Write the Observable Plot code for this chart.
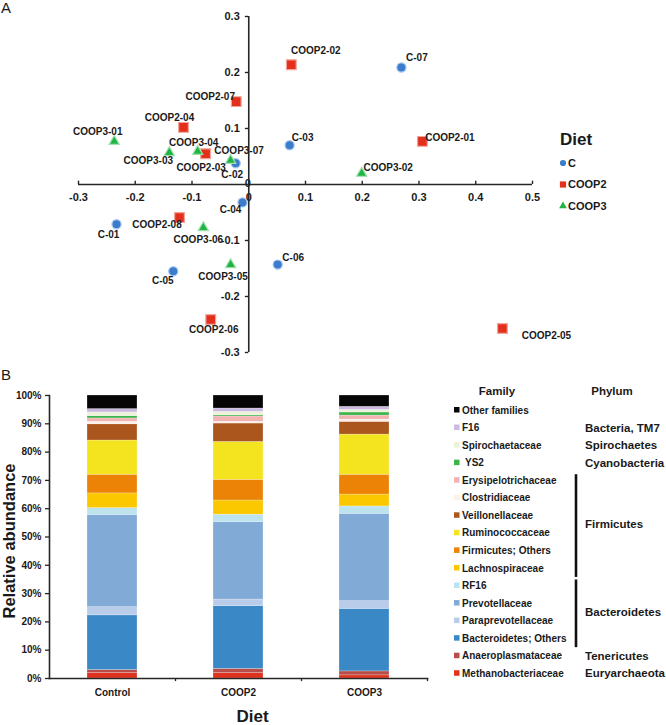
<!DOCTYPE html>
<html><head><meta charset="utf-8">
<script src="https://cdn.jsdelivr.net/npm/d3@7"></script>
<script src="https://cdn.jsdelivr.net/npm/@observablehq/plot@0.6"></script>
<style>
body{margin:0;background:#fff;font-family:"Liberation Sans",Arial,sans-serif;}
#wrap{position:relative;width:666px;height:725px;overflow:hidden;background:#fff;}
#wrap > svg{position:absolute;}
</style></head><body><div id="wrap"></div>
<script>
// ---------- Panel A data (PCoA) ----------
const sampleIds = ["C-01","C-02","C-03","C-04","C-05","C-06","C-07",
  "COOP2-01","COOP2-02","COOP2-03","COOP2-04","COOP2-05","COOP2-06","COOP2-07","COOP2-08",
  "COOP3-01","COOP3-02","COOP3-03","COOP3-04","COOP3-05","COOP3-06","COOP3-07"];
const sampleDiets = ["C","C","C","C","C","C","C",
  "COOP2","COOP2","COOP2","COOP2","COOP2","COOP2","COOP2","COOP2",
  "COOP3","COOP3","COOP3","COOP3","COOP3","COOP3","COOP3"];
const pc1 = [-0.233,-0.023,0.072,-0.011,-0.133,0.051,0.269,
  0.306,0.075,-0.076,-0.115,0.447,-0.067,-0.022,-0.122,
  -0.237,0.199,-0.140,-0.090,-0.032,-0.080,-0.032];
const pc2 = [-0.071,0.038,0.070,-0.032,-0.155,-0.143,0.209,
  0.077,0.214,0.055,0.102,-0.257,-0.241,0.148,-0.059,
  0.077,0.020,0.057,0.059,-0.143,-0.077,0.043];
const dietNames = ["C","COOP2","COOP3"];
const xTicksA = [-0.3,-0.2,-0.1,0.1,0.2,0.3,0.4,0.5];
const yTicksA = [-0.3,-0.2,-0.1,0.1,0.2,0.3];

// ---------- Panel B data (relative abundance, %) bottom -> top ----------
const families = ["Methanobacteriaceae","Anaeroplasmataceae","Bacteroidetes; Others","Paraprevotellaceae",
  "Prevotellaceae","RF16","Lachnospiraceae","Firmicutes; Others","Ruminococcaceae","Veillonellaceae",
  "Clostridiaceae","Erysipelotrichaceae","YS2","Spirochaetaceae","F16","Other families"];
const familyPhylum = ["Euryarchaeota","Tenericutes","Bacteroidetes","Bacteroidetes","Bacteroidetes","Bacteroidetes",
  "Firmicutes","Firmicutes","Firmicutes","Firmicutes","Firmicutes","Firmicutes",
  "Cyanobacteria","Spirochaetes","Bacteria, TM7",""];
const dietGroups = ["Control","COOP2","COOP3"];
const controlValues = [1.9,1.1,19.3,2.9,32.6,2.4,5.2,6.6,12.1,5.7,0.9,1.2,0.8,1.3,1.2,4.8];
const coop2Values   = [1.9,1.5,22.2,2.3,27.3,2.7,5.0,7.3,13.4,6.5,0.6,1.9,0.4,1.2,1.2,4.6];
const coop3Values   = [1.1,1.4,22.1,2.7,30.9,2.6,4.2,7.0,14.2,4.5,0.8,1.4,1.1,0.9,1.1,4.0];
const yTicksB = [0,10,20,30,40,50,60,70,80,90,100];

// ---------- styles ----------
const FONT = "Liberation Sans, Arial, Helvetica, sans-serif";
const TXT = "#1a1a1a";
const dietStyle = {
  C:     {symbol:"circle",   fill:"#3b7dcc", halo:"#a9c8ee", r:4.6},
  COOP2: {symbol:"square",   fill:"#e2301c", halo:"#f4a396", r:5.5},
  COOP3: {symbol:"triangle", fill:"#1fb443", halo:"#9fe0ad", r:3.8}
};
const familyColors = ["#e0321c","#b94d4a","#3a88c5","#b9cdea","#82aad6","#bde3ef","#fbc800","#ec8306",
  "#f4e420","#ab561d","#fdf1ea","#f2b3b3","#3cb44b","#ecf2d8","#cbb9e1","#060606"];
// label placement (pixel offsets from point)
const labelOffsets = {
  "COOP2-02":[24.5,-14],"C-07":[15.5,-10],"COOP2-07":[-26,-5],"COOP2-04":[-14,-10],
  "COOP3-01":[-16.5,-10],"COOP3-03":[-21,8],"COOP3-04":[-4,-9],"COOP2-03":[-4.5,14],
  "COOP3-07":[8.5,-10],"C-02":[-3.5,12],"C-03":[13,-8],"COOP2-01":[27.5,-4],
  "COOP3-02":[26.5,-6],"C-04":[-12,7],"COOP2-08":[-22.5,7],"C-01":[-8,11],
  "COOP3-06":[-5,12],"C-05":[-10.5,9],"COOP3-05":[-7.5,12],"C-06":[15.5,-7],
  "COOP2-06":[3,10],"COOP2-05":[44,7]
};

const wrap = document.getElementById("wrap");

// ---------- Panel A ----------
const pts = sampleIds.map((id,i)=>({id, diet:sampleDiets[i], x:pc1[i], y:pc2[i]}));
const axisCol = "#262626";
const plotA = Plot.plot({
  width: 666, height: 360,
  marginLeft: 78, marginRight: 134, marginTop: 16, marginBottom: 8,
  x: {domain: [-0.3, 0.5], axis: null},
  y: {domain: [-0.3, 0.3], axis: null},
  style: {fontFamily: FONT, fontWeight: "bold", overflow: "visible", background: "transparent"},
  marks: [
    Plot.text(xTicksA, {x: d=>d, y: 0, dy: 13, text: d=>String(d), fontSize: 11, fill: TXT}),
    Plot.text(yTicksA, {x: 0, y: d=>d, dx: -9, textAnchor: "end", text: d=>String(d), fontSize: 11, fill: TXT}),
    Plot.text([0], {x: 0, y: 0, dy: 13, text: d=>String(d), fontSize: 11, fill: TXT}),
    Plot.text([0], {x: 0, y: 0, dx: -1, dy: -1, text: d=>String(d), fontSize: 11, fill: TXT}),
    Plot.ruleY([0], {x1: -0.3, x2: 0.5, stroke: axisCol, strokeWidth: 1.6}),
    Plot.ruleX([0], {y1: -0.3, y2: 0.3, stroke: axisCol, strokeWidth: 1.6}),
    Plot.ruleX(xTicksA, {x: d=>d, y1: 0, y2: 0.006, stroke: axisCol, strokeWidth: 1.4}),
    Plot.ruleY(yTicksA, {y: d=>d, x1: -0.006, x2: 0, stroke: axisCol, strokeWidth: 1.4}),
    ...dietNames.map(dn => Plot.dot(pts, {
      filter: d => d.diet === dn, x: "x", y: "y",
      symbol: dietStyle[dn].symbol, r: dietStyle[dn].r,
      fill: dietStyle[dn].fill, stroke: dietStyle[dn].halo, strokeWidth: 1.2
    })),
    ...pts.map(p => Plot.text([p], {
      x: "x", y: "y", text: "id",
      dx: labelOffsets[p.id][0], dy: labelOffsets[p.id][1],
      fontSize: 10, fill: TXT
    }))
  ]
});
plotA.style.left = "0px"; plotA.style.top = "0px";
wrap.appendChild(plotA);

// ---------- Panel B ----------
const valuesByDiet = [controlValues, coop2Values, coop3Values];
const rows = [];
dietGroups.forEach((g, gi) => families.forEach((f, fi) => rows.push({diet: g, family: f, value: valuesByDiet[gi][fi]})));

const plotB = Plot.plot({
  width: 440, height: 365,
  marginLeft: 49, marginRight: 13, marginTop: 35, marginBottom: 47,
  x: {domain: dietGroups, paddingInner: 0.6, paddingOuter: 0.3, axis: null},
  y: {domain: [0, 100], axis: null},
  color: {domain: families, range: familyColors},
  style: {fontFamily: FONT, fontWeight: "bold", overflow: "visible", background: "transparent"},
  marks: [
    Plot.barY(rows, {x: "diet", y: "value", fill: "family", stroke: "#ffffff", strokeWidth: 0.4, strokeOpacity: 0.6}),
    Plot.axisY({ticks: yTicksB, tickFormat: d => d + "%", tickSize: 4, tickPadding: 4, label: null,
      fontSize: 10, fill: TXT, stroke: axisCol, strokeWidth: 1.3}),
    Plot.axisX({tickSize: 0, tickPadding: 10, label: null, fontSize: 10, fill: TXT}),
    Plot.frame({anchor: "left", stroke: axisCol, strokeWidth: 1.6}),
    Plot.frame({anchor: "bottom", stroke: axisCol, strokeWidth: 1.6}),
    Plot.ruleX(dietGroups, {x: d => d, dx: 63, y1: 0, y2: -1.1, stroke: axisCol, strokeWidth: 1.3}),
    Plot.text(["Relative abundance"], {frameAnchor: "left", textAnchor: "middle", lineAnchor: "middle",
      rotate: -90, dx: -40, dy: 4, fontSize: 16.5, fill: TXT}),
    Plot.text(["Diet"], {frameAnchor: "bottom", textAnchor: "middle", lineAnchor: "middle",
      dx: 14, dy: 38, fontSize: 17, fill: TXT})
  ]
});
plotB.style.left = "0px"; plotB.style.top = "360px";
wrap.appendChild(plotB);

// ---------- Overlay: panel letters & legends ----------
const ov = d3.select(wrap).append("svg")
  .attr("width", 666).attr("height", 725)
  .style("left", "0px").style("top", "0px")
  .style("font-family", FONT);

ov.append("text").attr("x", 1).attr("y", 13).attr("font-size", 15).attr("fill", TXT).text("A");
ov.append("text").attr("x", 1).attr("y", 380).attr("font-size", 15).attr("fill", TXT).text("B");

// Diet legend (panel A)
ov.append("text").attr("x", 560).attr("y", 145).attr("font-size", 17).attr("font-weight", "bold").attr("fill", TXT).text("Diet");
const symMap = {circle: d3.symbolCircle, square: d3.symbolSquare, triangle: d3.symbolTriangle};
const legSizes = {C: 30, COOP2: 38, COOP3: 26};
dietNames.forEach((dn, i) => {
  const y = 163 + i * 21.5;
  ov.append("path").attr("d", d3.symbol(symMap[dietStyle[dn].symbol], legSizes[dn])())
    .attr("transform", `translate(563,${y})`).attr("fill", dietStyle[dn].fill);
  ov.append("text").attr("x", 568).attr("y", y).attr("dy", "0.36em")
    .attr("font-size", 11).attr("font-weight", "bold").attr("fill", TXT).text(dn);
});

// Family legend (panel B)
const legRows = families.map((f, i) => ({family: f, color: familyColors[i], phylum: familyPhylum[i]})).reverse();
const rowY = i => 410 + i * 17.55;
ov.append("text").attr("x", 497).attr("y", rowY(0) - 19).attr("dy", "0.36em").attr("text-anchor", "middle")
  .attr("font-size", 11.5).attr("font-weight", "bold").attr("fill", TXT).text("Family");
ov.append("text").attr("x", 612).attr("y", rowY(0) - 19).attr("dy", "0.36em").attr("text-anchor", "middle")
  .attr("font-size", 11.5).attr("font-weight", "bold").attr("fill", TXT).text("Phylum");
legRows.forEach((r, i) => {
  const y = rowY(i);
  ov.append("rect").attr("x", 454).attr("y", y - 3).attr("width", 5.5).attr("height", 5.5).attr("fill", r.color);
  ov.append("text").attr("x", r.family === "YS2" ? 465 : 462).attr("y", y).attr("dy", "0.36em")
    .attr("font-size", 10).attr("font-weight", "bold").attr("fill", TXT).text(r.family);
});
// phylum groups
const groups = [];
legRows.forEach((r, i) => {
  if (!r.phylum) return;
  const last = groups[groups.length - 1];
  if (last && last.name === r.phylum) last.end = i; else groups.push({name: r.phylum, start: i, end: i});
});
groups.forEach(g => {
  const yMid = (rowY(g.start) + rowY(g.end)) / 2;
  ov.append("text").attr("x", 585).attr("y", yMid).attr("dy", "0.36em")
    .attr("font-size", 11.5).attr("font-weight", "bold").attr("fill", TXT).text(g.name);
  if (g.end > g.start) {
    ov.append("line").attr("x1", 576).attr("x2", 576)
      .attr("y1", rowY(g.start) - 6).attr("y2", rowY(g.end) + 9)
      .attr("stroke", "#111").attr("stroke-width", 2.6);
  }
});
</script></body></html>
